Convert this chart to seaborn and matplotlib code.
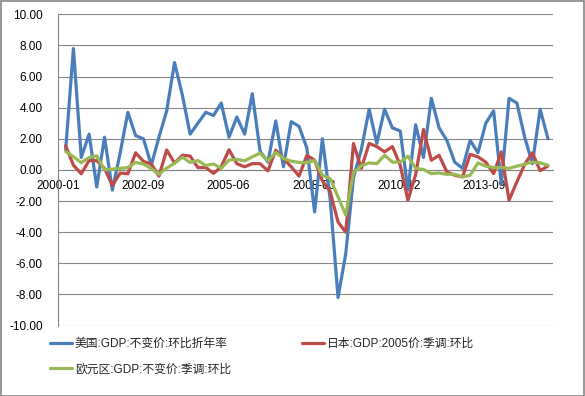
import numpy as np
import pandas as pd
import matplotlib
matplotlib.use('Agg')
import matplotlib.pyplot as plt
import seaborn as sns

# 季度数据: 2000Q1 - 2015Q3
quarters = pd.date_range('2000-03-31', periods=63, freq='QE')

us_gdp = [1.3, 7.8, 0.8, 2.3, -1.1, 2.1, -1.3, 1.1, 3.7, 2.2,
          2.0, 0.3, 2.1, 3.8, 6.9, 4.8, 2.3, 3.0, 3.7, 3.5,
          4.3, 2.1, 3.4, 2.3, 4.9, 1.2, 0.5, 3.15, 0.2, 3.1,
          2.8, 1.4, -2.7, 2.0, -1.9, -8.2, -5.4, -0.5, 1.3, 3.9,
          1.7, 3.9, 2.7, 2.5, -1.3, 2.9, 0.8, 4.6, 2.7, 1.9,
          0.5, 0.1, 1.9, 1.1, 3.0, 3.8, -0.9, 4.6, 4.3, 2.1,
          0.4, 3.9, 2.0]

jp_gdp = [1.55, 0.3, -0.25, 0.6, 0.6, 0.1, -1.0, -0.2, -0.25, 1.1,
          0.55, 0.38, -0.4, 1.28, 0.44, 0.94, 0.89, 0.15, 0.15, -0.22,
          0.2, 1.3, 0.4, 0.2, 0.4, 0.4, -0.06, 1.27, 0.73, 0.2,
          -0.4, 0.94, 0.62, -0.7, -1.4, -3.35, -4.0, 1.7, 0.1, 1.7,
          1.5, 1.16, 1.5, 0.3, -1.95, -0.3, 2.6, 0.62, 0.94, -0.13,
          -0.34, -0.45, 1.0, 0.84, 0.5, -0.24, 1.16, -1.95, -0.77, 0.36,
          1.1, -0.05, 0.25]

ez_gdp = [1.18, 0.85, 0.47, 0.8, 0.9, 0.0, 0.05, 0.1, 0.15, 0.48,
          0.38, 0.08, -0.28, 0.12, 0.42, 0.82, 0.48, 0.6, 0.28, 0.38,
          0.1, 0.63, 0.68, 0.58, 0.84, 1.08, 0.58, 1.13, 0.74, 0.56,
          0.48, 0.47, 0.6, -0.34, -0.56, -1.74, -2.9, -0.2, 0.27, 0.45,
          0.4, 0.94, 0.5, 0.5, 0.88, 0.1, 0.03, -0.24, -0.2, -0.28,
          -0.28, -0.45, -0.34, 0.45, 0.24, 0.15, 0.15, 0.1, 0.24, 0.36,
          0.5, 0.45, 0.3]

series_names = ['美国:GDP:不变价:环比折年率',
                '日本:GDP:2005价:季调:环比',
                '欧元区:GDP:不变价:季调:环比']
colors = ['#4A7EBB', '#BE4B48', '#98B954']

tick_labels = ['2000-01', '2002-09', '2005-06', '2008-03', '2010-12', '2013-09']

# Estilo
sns.set_style('white')
plt.rcParams['font.family'] = ['Liberation Sans', 'Noto Sans CJK SC', 'DejaVu Sans']

GRID = '#868686'

df = pd.concat([
    pd.DataFrame({'date': quarters, 'value': vals, 'series': name})
    for vals, name in zip([us_gdp, jp_gdp, ez_gdp], series_names)
])

fig = plt.figure(figsize=(5.85, 3.96), dpi=100)
ax = fig.add_axes([58 / 585, 1 - 325.5 / 396, 495 / 585, 311.2 / 396])

sns.lineplot(data=df, x='date', y='value', hue='series', hue_order=series_names,
             palette=colors, linewidth=2.3, ax=ax, legend=False)

# eixo y
ax.set_ylim(-10, 10)
ax.set_yticks(np.arange(-10, 10.1, 2))
ax.set_yticklabels([f'{v:.2f}' for v in np.arange(-10, 10.1, 2)])
ax.yaxis.grid(True, color=GRID, linewidth=0.8)
ax.set_axisbelow(True)

# eixo x (datas, intervalo de 1000 dias)
start = pd.Timestamp('2000-01-01')
ax.set_xlim(start, start + pd.Timedelta(days=5810))
ax.set_xticks([start + pd.Timedelta(days=1000 * k) for k in range(len(tick_labels))])
ax.set_xticklabels(tick_labels)
ax.set_xlabel('')
ax.set_ylabel('')

for s in ['top', 'right']:
    ax.spines[s].set_visible(False)
ax.spines['bottom'].set_position(('data', 0))
ax.spines['bottom'].set_color(GRID)
ax.spines['left'].set_color(GRID)
ax.spines['bottom'].set_zorder(0.5)
ax.tick_params(axis='x', direction='out', length=3, width=0.8, color=GRID,
               pad=4, labelsize=8.5, labelcolor='black')
ax.tick_params(axis='y', direction='out', length=3, width=0.8, color=GRID,
               pad=8, labelsize=8.5, labelcolor='black')

# legenda (ordem por linhas)
lines = ax.get_lines()[:3]
order = [0, 2, 1]
fig.legend([lines[i] for i in order], [series_names[i] for i in order],
           ncol=2, loc='upper left',
           bbox_to_anchor=(50 / 585, 1 - 338 / 396),
           frameon=False, fontsize=8.5, handlelength=1.9, handletextpad=0.2,
           labelspacing=1.15, columnspacing=6.0, borderaxespad=0, borderpad=0)

# borda do gráfico
fig.patches.append(plt.Rectangle((0.5 / 585, 0.5 / 396), 1 - 1.5 / 585, 1 - 1.5 / 396,
                                 transform=fig.transFigure, fill=False,
                                 edgecolor=GRID, linewidth=1.2))

fig.savefig('out.png', dpi=100)
